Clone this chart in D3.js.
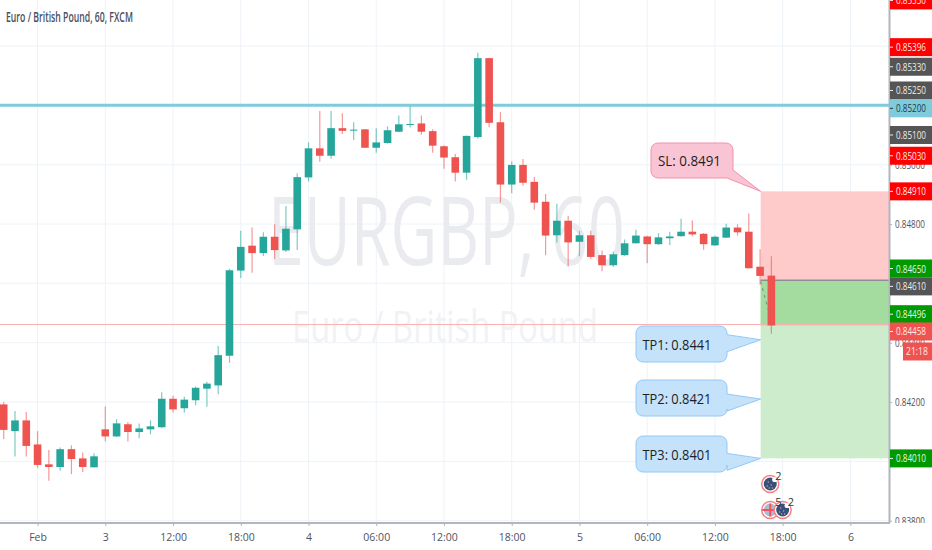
<!DOCTYPE html>
<html>
<head>
<meta charset="utf-8">
<script src="https://cdnjs.cloudflare.com/ajax/libs/d3/7.8.5/d3.min.js"></script>
<style>
  html, body { margin: 0; padding: 0; background: #fff; }
  svg { display: block; }
  text { font-family: "Open Sans", sans-serif; }
</style>
</head>
<body>
<svg id="svg"></svg>
<script>
const svgWidth = 932;
const svgHeight = 550;

// hourly candles
const opens = [0.84192,0.84102,0.84138,0.84057,0.83990,0.83981,0.84041,0.84010,0.83980,0.84108,0.84084,0.84125,0.84099,0.84108,0.84115,0.84211,0.84179,0.84206,0.84245,0.84256,0.84356,0.84643,0.84727,0.84702,0.84757,0.84711,0.84782,0.84957,0.85055,0.85030,0.85123,0.85115,0.85119,0.85057,0.85073,0.85111,0.85134,0.85139,0.85113,0.85062,0.85025,0.84973,0.85093,0.85359,0.85143,0.84933,0.84999,0.84942,0.84875,0.84762,0.84811,0.84740,0.84762,0.84695,0.84661,0.84695,0.84735,0.84758,0.84732,0.84752,0.84759,0.84774,0.84767,0.84728,0.84754,0.84788,0.84774,0.84656,0.84626];
const highs = [0.84200,0.84170,0.84166,0.84102,0.84038,0.84047,0.84054,0.84030,0.84027,0.84185,0.84142,0.84133,0.84128,0.84138,0.84233,0.84221,0.84218,0.84252,0.84268,0.84389,0.84649,0.84777,0.84788,0.84772,0.84799,0.84861,0.84971,0.85075,0.85181,0.85181,0.85173,0.85143,0.85120,0.85123,0.85129,0.85166,0.85198,0.85166,0.85119,0.85065,0.85036,0.85098,0.85377,0.85360,0.85177,0.85011,0.85019,0.84958,0.84901,0.84868,0.84827,0.84777,0.84777,0.84711,0.84707,0.84748,0.84781,0.84760,0.84769,0.84774,0.84818,0.84812,0.84770,0.84761,0.84801,0.84799,0.84835,0.84715,0.84691];
const lows = [0.84075,0.84016,0.84016,0.83978,0.83935,0.83968,0.83957,0.83964,0.83979,0.84068,0.84083,0.84067,0.84078,0.84091,0.84112,0.84165,0.84165,0.84189,0.84184,0.84226,0.84332,0.84618,0.84636,0.84692,0.84682,0.84706,0.84712,0.84943,0.85010,0.85020,0.85103,0.85083,0.85056,0.85040,0.85071,0.85110,0.85125,0.85101,0.85040,0.84986,0.84943,0.84949,0.85088,0.85126,0.84872,0.84904,0.84929,0.84848,0.84695,0.84738,0.84657,0.84691,0.84683,0.84641,0.84655,0.84693,0.84734,0.84668,0.84730,0.84729,0.84757,0.84759,0.84713,0.84726,0.84753,0.84761,0.84650,0.84595,0.84430];
const closes = [0.84106,0.84138,0.84052,0.83988,0.83981,0.84041,0.84008,0.83981,0.84017,0.84084,0.84128,0.84099,0.84111,0.84118,0.84211,0.84175,0.84208,0.84248,0.84262,0.84358,0.84644,0.84723,0.84702,0.84757,0.84712,0.84784,0.84958,0.85055,0.85030,0.85123,0.85114,0.85118,0.85057,0.85075,0.85116,0.85136,0.85137,0.85111,0.85064,0.85024,0.84973,0.85097,0.85359,0.85141,0.84933,0.84999,0.84939,0.84872,0.84761,0.84811,0.84738,0.84762,0.84689,0.84661,0.84698,0.84735,0.84761,0.84732,0.84755,0.84758,0.84774,0.84765,0.84732,0.84757,0.84788,0.84772,0.84651,0.84625,0.84458];

// time axis
const timeTickIndex = [3, 9, 15, 21, 27, 33, 39, 45, 51, 57, 63, 69, 75];
const timeTickLabels = ["Feb", "3", "12:00", "18:00", "4", "06:00", "12:00", "18:00", "5", "06:00", "12:00", "18:00", "6"];

// price axis
const priceTicks = [0.838, 0.84, 0.842, 0.844, 0.846, 0.848, 0.85, 0.852, 0.854];

// level tags on the price axis
const redLevels = [0.8553, 0.85396, 0.85030, 0.84910];
const greyLevels = [0.85330, 0.85250, 0.85100, 0.84610];
const greenLevels = [0.84650, 0.84496, 0.84010];
const supportLevel = 0.852;
const lastPrice = 0.84458;
const countdown = "21:18";

// trade plan
const stopLoss = 0.8491;
const entry = 0.8461;
const targets = [0.8441, 0.8421, 0.8401];
const targetNames = ["TP1", "TP2", "TP3"];

// news events under the last candles
const eventCandle = [67.9, 67.9, 69];
const eventCounts = [2, 5, 2];
const eventKinds = ["cookie", "flag", "cookie"];

const plotRight = 889;
const plotBottom = 523;

const xScale = d3.scaleLinear().domain([0, 75]).range([3.7, 850.4]);
const yScale = d3.scaleLinear().domain([0.838, 0.848]).range([520.7, 224]);

const svg = d3.select("#svg").attr("width", svgWidth).attr("height", svgHeight);

// squeeze a text to a width, the chart's font is narrower than what we have
function fitText(sel, width) {
  sel.each(function () {
    const t = d3.select(this);
    const x = +t.attr("x") || 0;
    const y = +t.attr("y") || 0;
    const w = this.getComputedTextLength();
    t.attr("x", 0).attr("y", 0)
      .attr("transform", `translate(${x},${y}) scale(${width / w},1)`);
  });
  return sel;
}

svg.append("clipPath").attr("id", "plot-clip")
  .append("rect").attr("width", plotRight).attr("height", plotBottom);

const plot = svg.append("g").attr("clip-path", "url(#plot-clip)");

// grid
plot.selectAll(".vgrid").data(timeTickIndex).join("line")
  .attr("class", "vgrid")
  .attr("x1", d => xScale(d)).attr("x2", d => xScale(d))
  .attr("y1", 0).attr("y2", plotBottom)
  .attr("stroke", "#eef3f8");
plot.selectAll(".hgrid").data(priceTicks).join("line")
  .attr("class", "hgrid")
  .attr("x1", 0).attr("x2", plotRight)
  .attr("y1", d => yScale(d)).attr("y2", d => yScale(d))
  .attr("stroke", "#eef3f8");

// watermark
fitText(plot.append("text")
  .attr("x", 268).attr("y", 265)
  .style("font-size", "95px").attr("fill", "#e9ebef")
  .text("EURGBP, 60"), 357);
fitText(plot.append("text")
  .attr("x", 292).attr("y", 342)
  .style("font-size", "44px").attr("fill", "#f1f2f5")
  .text("Euro / British Pound"), 306);

// title
fitText(svg.append("text")
  .attr("x", 6).attr("y", 22)
  .style("font-size", "13.5px").style("font-weight", 600).attr("fill", "#4a4f60")
  .text("Euro / British Pound, 60, FXCM"), 127);

// risk / reward zones
const zoneLeft = xScale(67.05);
plot.append("rect")
  .attr("x", zoneLeft).attr("width", plotRight - zoneLeft)
  .attr("y", yScale(stopLoss)).attr("height", yScale(entry) - yScale(stopLoss))
  .attr("fill", "#ffcaca");
plot.append("rect")
  .attr("x", zoneLeft).attr("width", plotRight - zoneLeft)
  .attr("y", yScale(entry)).attr("height", yScale(targets[2]) - yScale(entry))
  .attr("fill", "#cdeccb");
plot.append("rect")
  .attr("x", zoneLeft).attr("width", plotRight - zoneLeft)
  .attr("y", yScale(entry)).attr("height", yScale(lastPrice) - yScale(entry))
  .attr("fill", "#a4dca0");
plot.append("line")
  .attr("x1", zoneLeft).attr("x2", plotRight)
  .attr("y1", yScale(entry)).attr("y2", yScale(entry))
  .attr("stroke", "#8b8f98").attr("stroke-width", 1.5);

// support line
plot.append("line")
  .attr("x1", 0).attr("x2", plotRight)
  .attr("y1", yScale(supportLevel)).attr("y2", yScale(supportLevel))
  .attr("stroke", "#7fcbdc").attr("stroke-width", 3);

// last price line
plot.append("line")
  .attr("x1", 0).attr("x2", plotRight)
  .attr("y1", Math.round(yScale(lastPrice)) - 0.5).attr("y2", Math.round(yScale(lastPrice)) - 0.5)
  .attr("stroke", "#f7b2b2").attr("stroke-width", 1);

// candles
const upColor = "#26a69a";
const downColor = "#ef5350";
const candleWidth = 7.6;
const candles = plot.selectAll(".candle").data(opens).join("g")
  .attr("class", "candle");
candles.append("line")
  .attr("x1", (d, i) => xScale(i)).attr("x2", (d, i) => xScale(i))
  .attr("y1", (d, i) => yScale(highs[i])).attr("y2", (d, i) => yScale(lows[i]))
  .attr("stroke", (d, i) => closes[i] >= opens[i] ? upColor : downColor)
  .attr("stroke-opacity", 0.6)
  .attr("stroke-width", 1.2);
candles.append("rect")
  .attr("x", (d, i) => xScale(i) - candleWidth / 2)
  .attr("width", candleWidth)
  .attr("y", (d, i) => yScale(Math.max(opens[i], closes[i])))
  .attr("height", (d, i) => Math.max(1, Math.abs(yScale(opens[i]) - yScale(closes[i]))))
  .attr("fill", (d, i) => closes[i] >= opens[i] ? upColor : downColor);

// entry connector
plot.append("line")
  .attr("x1", zoneLeft).attr("x2", xScale(68) - 3)
  .attr("y1", yScale(entry) + 1).attr("y2", yScale(lastPrice) - 15)
  .attr("stroke", "#7d8590").attr("stroke-dasharray", "3 4");

// callouts
function callout(boxLeft, boxRight, boxTop, boxBottom, tipPrice, baseTop, baseBottom, side, fill, stroke, label, textLeft, textWidth) {
  const r = 7;
  const tipX = zoneLeft;
  const tipY = yScale(tipPrice);
  let path = d3.path();
  path.moveTo(boxLeft + r, boxTop);
  path.arcTo(boxRight, boxTop, boxRight, boxTop + r, r);
  if (side === "right") {
    path.lineTo(boxRight, baseTop);
    path.lineTo(tipX, tipY);
    path.lineTo(boxRight, baseBottom);
    path.arcTo(boxRight, boxBottom, boxRight - r, boxBottom, r);
  } else {
    path.lineTo(boxRight, baseTop);
    path.lineTo(tipX, tipY);
    path.lineTo(baseBottom, boxBottom);
  }
  path.arcTo(boxLeft, boxBottom, boxLeft, boxBottom - r, r);
  path.arcTo(boxLeft, boxTop, boxLeft + r, boxTop, r);
  path.closePath();
  svg.append("path").attr("d", path.toString())
    .attr("fill", fill).attr("stroke", stroke);
  fitText(svg.append("text")
    .attr("x", textLeft).attr("y", (boxTop + boxBottom) / 2 + 5.5)
    .style("font-size", "15px").attr("fill", "#1d1f26")
    .text(label), textWidth);
}

callout(651, 733, 143, 178, stopLoss, 170, 727, "corner", "#f9c4d4", "#f391a9", "SL: " + stopLoss.toFixed(4), 658, 63);
const targetTops = [326, 380, 436];
targets.forEach((t, i) => {
  const tipY = yScale(t);
  callout(636, 727, targetTops[i], targetTops[i] + 36, t, tipY - 5, tipY + 12, "right", "#c5e2fb", "#92c9f7", targetNames[i] + ": " + t.toFixed(4), 642.5, 69);
});

// event markers
const eventRows = [484, 510, 510];
const eventDots = [[-2, -2], [1, 1], [-3, 2], [2, 4], [-1, 4]];
const events = svg.selectAll(".event").data(eventCounts).join("g")
  .attr("class", "event")
  .attr("transform", (d, i) => `translate(${xScale(eventCandle[i])},${eventRows[i]})`);
events.append("circle").attr("r", 8.5).attr("fill", "#fff")
  .attr("stroke", "#f77f7f").attr("stroke-width", 1.5);
const cookies = events.filter((d, i) => eventKinds[i] === "cookie");
cookies.append("circle").attr("r", 6.5).attr("fill", "#38507a");
cookies.append("circle").attr("cx", 4.5).attr("cy", -4.5).attr("r", 2.6).attr("fill", "#fff");
cookies.selectAll(".dot").data(eventDots).join("circle")
  .attr("class", "dot")
  .attr("cx", d => d[0]).attr("cy", d => d[1]).attr("r", 0.7).attr("fill", "#c9a0a8");
const flag = events.filter((d, i) => eventKinds[i] === "flag");
flag.append("circle").attr("r", 6.5).attr("fill", "#a9bcd6");
flag.append("line").attr("x1", -8).attr("x2", 8).attr("stroke", "#f4525a").attr("stroke-width", 2);
flag.append("line").attr("y1", -6.5).attr("y2", 6.5).attr("stroke", "#f4525a").attr("stroke-width", 2);
// counts go on top, the markers overlap each other
svg.selectAll(".event-count").data(eventCounts).join("text")
  .attr("class", "event-count")
  .attr("x", (d, i) => xScale(eventCandle[i]) + 5)
  .attr("y", (d, i) => eventRows[i] - 4)
  .style("font-size", "11px").attr("fill", "#333")
  .text(d => d);

// axes
const axisColor = "#b2b5be";
const labelColor = "#50535e";

const xAxis = d3.axisBottom(xScale)
  .tickValues(timeTickIndex)
  .tickFormat((d, i) => timeTickLabels[i])
  .tickSize(3).tickPadding(8);
const xAxisG = svg.append("g")
  .attr("transform", `translate(0,${plotBottom})`)
  .call(xAxis);
xAxisG.select(".domain").attr("stroke", "none");
xAxisG.selectAll("line").attr("stroke", axisColor);
xAxisG.selectAll("text").attr("fill", labelColor)
  .style("font-family", '"Open Sans", sans-serif').style("font-size", "10.5px");

const yAxis = d3.axisRight(yScale)
  .tickValues(priceTicks)
  .tickFormat(d3.format(".5f"))
  .tickSize(3).tickPadding(3);
const yAxisG = svg.append("g")
  .attr("transform", `translate(${plotRight},0)`)
  .call(yAxis);
yAxisG.select(".domain").attr("stroke", "none");
yAxisG.selectAll("line").attr("stroke", axisColor);
yAxisG.selectAll("text").attr("fill", labelColor)
  .style("font-family", '"Open Sans", sans-serif').style("font-size", "11px");
fitText(yAxisG.selectAll("text"), 30);

// hide what runs under the time axis
svg.append("rect").attr("x", plotRight).attr("y", plotBottom).attr("width", 43).attr("height", 27).attr("fill", "#fff");

svg.append("line").attr("x1", 0).attr("x2", plotRight + 1)
  .attr("y1", plotBottom).attr("y2", plotBottom)
  .attr("stroke", axisColor).attr("stroke-width", 2);
svg.append("line").attr("x1", plotRight + 0.5).attr("x2", plotRight + 0.5)
  .attr("y1", 0).attr("y2", plotBottom)
  .attr("stroke", axisColor).attr("stroke-width", 2);

// level tags: some are pushed off their price so they do not overlap
const tagNudge = new Map([[0.8553, -7], [0.852, 3], [0.8461, 6], [0.84458, 6]]);
function priceTag(level, fill, textFill) {
  const y = yScale(level) + (tagNudge.get(level) || 0);
  svg.append("rect")
    .attr("x", plotRight + 1).attr("y", y - 9).attr("width", 43).attr("height", 18)
    .attr("fill", fill);
  svg.append("line")
    .attr("x1", plotRight + 1).attr("x2", plotRight + 4)
    .attr("y1", y).attr("y2", y).attr("stroke", textFill);
  fitText(svg.append("text")
    .attr("x", 896).attr("y", y + 4)
    .style("font-size", "11px").attr("fill", textFill)
    .text(level.toFixed(5)), 30);
}
redLevels.forEach(d => priceTag(d, "#ff0000", "#fde8e8"));
greyLevels.forEach(d => priceTag(d, "#555555", "#ececec"));
greenLevels.forEach(d => priceTag(d, "#009900", "#e8f6e8"));
priceTag(supportLevel, "#7fcbdc", "#1f3b45");
priceTag(lastPrice, "#ef5350", "#fde8e8");

// countdown
const countdownY = yScale(lastPrice) + 26;
svg.append("rect").attr("x", 903).attr("y", countdownY - 9).attr("width", 29).attr("height", 18).attr("fill", "#ef5350");
fitText(svg.append("text")
  .attr("x", 906).attr("y", countdownY + 4)
  .style("font-size", "11px").attr("fill", "#fde8e8")
  .text(countdown), 22);
</script>
</body>
</html>
